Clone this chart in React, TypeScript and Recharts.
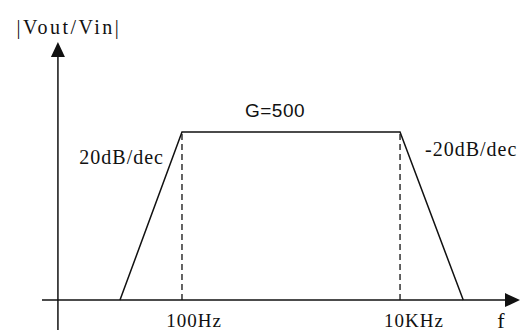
import { ComposedChart, Line, XAxis, YAxis, ReferenceLine, ReferenceDot } from 'recharts';

// band-pass magnitude response (straight-line approximation)
const freqs = [27, 100, 10000, 38000];
const gains = [0, 500, 500, 0];

const cornerFreqs = [100, 10000];
const cornerLabels = ['100Hz', '10KHz'];
const passGain = 500;
const gainLabel = 'G=500';
const slopeLabels = ['20dB/dec', '-20dB/dec'];
const xLabel = 'f';
const yLabel = '|Vout/Vin|';

const xDomain = [5.2, 126000];
const yDomain = [-89, 768];
const yAxisAt = 7.28;
const xAxisFrom = 5.2;
const labelFreq = 713;

const data = freqs.map((f, i) => ({ f, gain: gains[i] }));

const serif = { fontFamily: '"Liberation Serif", "Times New Roman", serif' };
const sans = { fontFamily: '"Liberation Sans", Arial, sans-serif' };
const ink = '#111';

function Arrow(props: any) {
  const { x1, y1, x2, y2 } = props;
  const dx = x2 - x1;
  const dy = y2 - y1;
  const len = Math.sqrt(dx * dx + dy * dy) || 1;
  const ux = dx / len;
  const uy = dy / len;
  const head = 15;
  const half = 7;
  const bx = x2 - ux * head;
  const by = y2 - uy * head;
  return (
    <g>
      <line x1={x1} y1={y1} x2={bx} y2={by} stroke={ink} strokeWidth={1.5} />
      <polygon
        points={`${x2},${y2} ${bx - uy * half},${by + ux * half} ${bx + uy * half},${by - ux * half}`}
        fill={ink}
      />
    </g>
  );
}

export default function App() {
  return (
    <div style={{ position: 'absolute', left: 0, top: 0, background: '#fff' }}>
      <ComposedChart
        width={523}
        height={334}
        data={data}
        margin={{ top: 42, right: 3, bottom: 4, left: 42 }}
      >
        <XAxis dataKey="f" type="number" scale="log" domain={xDomain} allowDataOverflow hide />
        <YAxis type="number" domain={yDomain} allowDataOverflow hide />

        {/* y axis with arrow */}
        <ReferenceLine
          segment={[
            { x: yAxisAt, y: yDomain[0] },
            { x: yAxisAt, y: yDomain[1] },
          ]}
          shape={Arrow}
          label={(p: any) => (
            <text
              x={p.viewBox.x + 11}
              y={p.viewBox.y - 8}
              textAnchor="middle"
              style={serif}
              fontSize={20}
              letterSpacing={2.5}
              fill={ink}
            >
              {yLabel}
            </text>
          )}
        />

        {/* x axis with arrow */}
        <ReferenceLine
          segment={[
            { x: xAxisFrom, y: 0 },
            { x: xDomain[1], y: 0 },
          ]}
          shape={Arrow}
          label={(p: any) => (
            <text
              x={p.viewBox.x + p.viewBox.width - 19}
              y={p.viewBox.y + 28}
              textAnchor="middle"
              style={serif}
              fontSize={22}
              fill={ink}
            >
              {xLabel}
            </text>
          )}
        />

        {cornerFreqs.map((cf, i) => (
          <ReferenceLine
            key={cf}
            segment={[
              { x: cf, y: 0 },
              { x: cf, y: passGain },
            ]}
            stroke={ink}
            strokeWidth={1.3}
            strokeDasharray="6 4"
            label={(p: any) => (
              <g>
                <text
                  x={p.viewBox.x + (i === 0 ? 12 : 14)}
                  y={p.viewBox.y + p.viewBox.height + 27}
                  textAnchor="middle"
                  style={serif}
                  fontSize={19}
                  letterSpacing={1}
                  fill={ink}
                >
                  {cornerLabels[i]}
                </text>
                <text
                  x={p.viewBox.x + (i === 0 ? -18 : 25)}
                  y={p.viewBox.y + (i === 0 ? 32 : 24)}
                  textAnchor={i === 0 ? 'end' : 'start'}
                  style={serif}
                  fontSize={20}
                  letterSpacing={1}
                  fill={ink}
                >
                  {slopeLabels[i]}
                </text>
              </g>
            )}
          />
        ))}

        <ReferenceDot
          x={labelFreq}
          y={passGain}
          r={0}
          stroke="none"
          fill="none"
          label={(p: any) => (
            <text
              x={p.viewBox.x}
              y={p.viewBox.y - 15}
              textAnchor="middle"
              style={sans}
              fontSize={19}
              letterSpacing={0.5}
              fill={ink}
            >
              {gainLabel}
            </text>
          )}
        />

        <Line
          dataKey="gain"
          type="linear"
          stroke={ink}
          strokeWidth={1.5}
          dot={false}
          activeDot={false}
          isAnimationActive={false}
        />
      </ComposedChart>
    </div>
  );
}
